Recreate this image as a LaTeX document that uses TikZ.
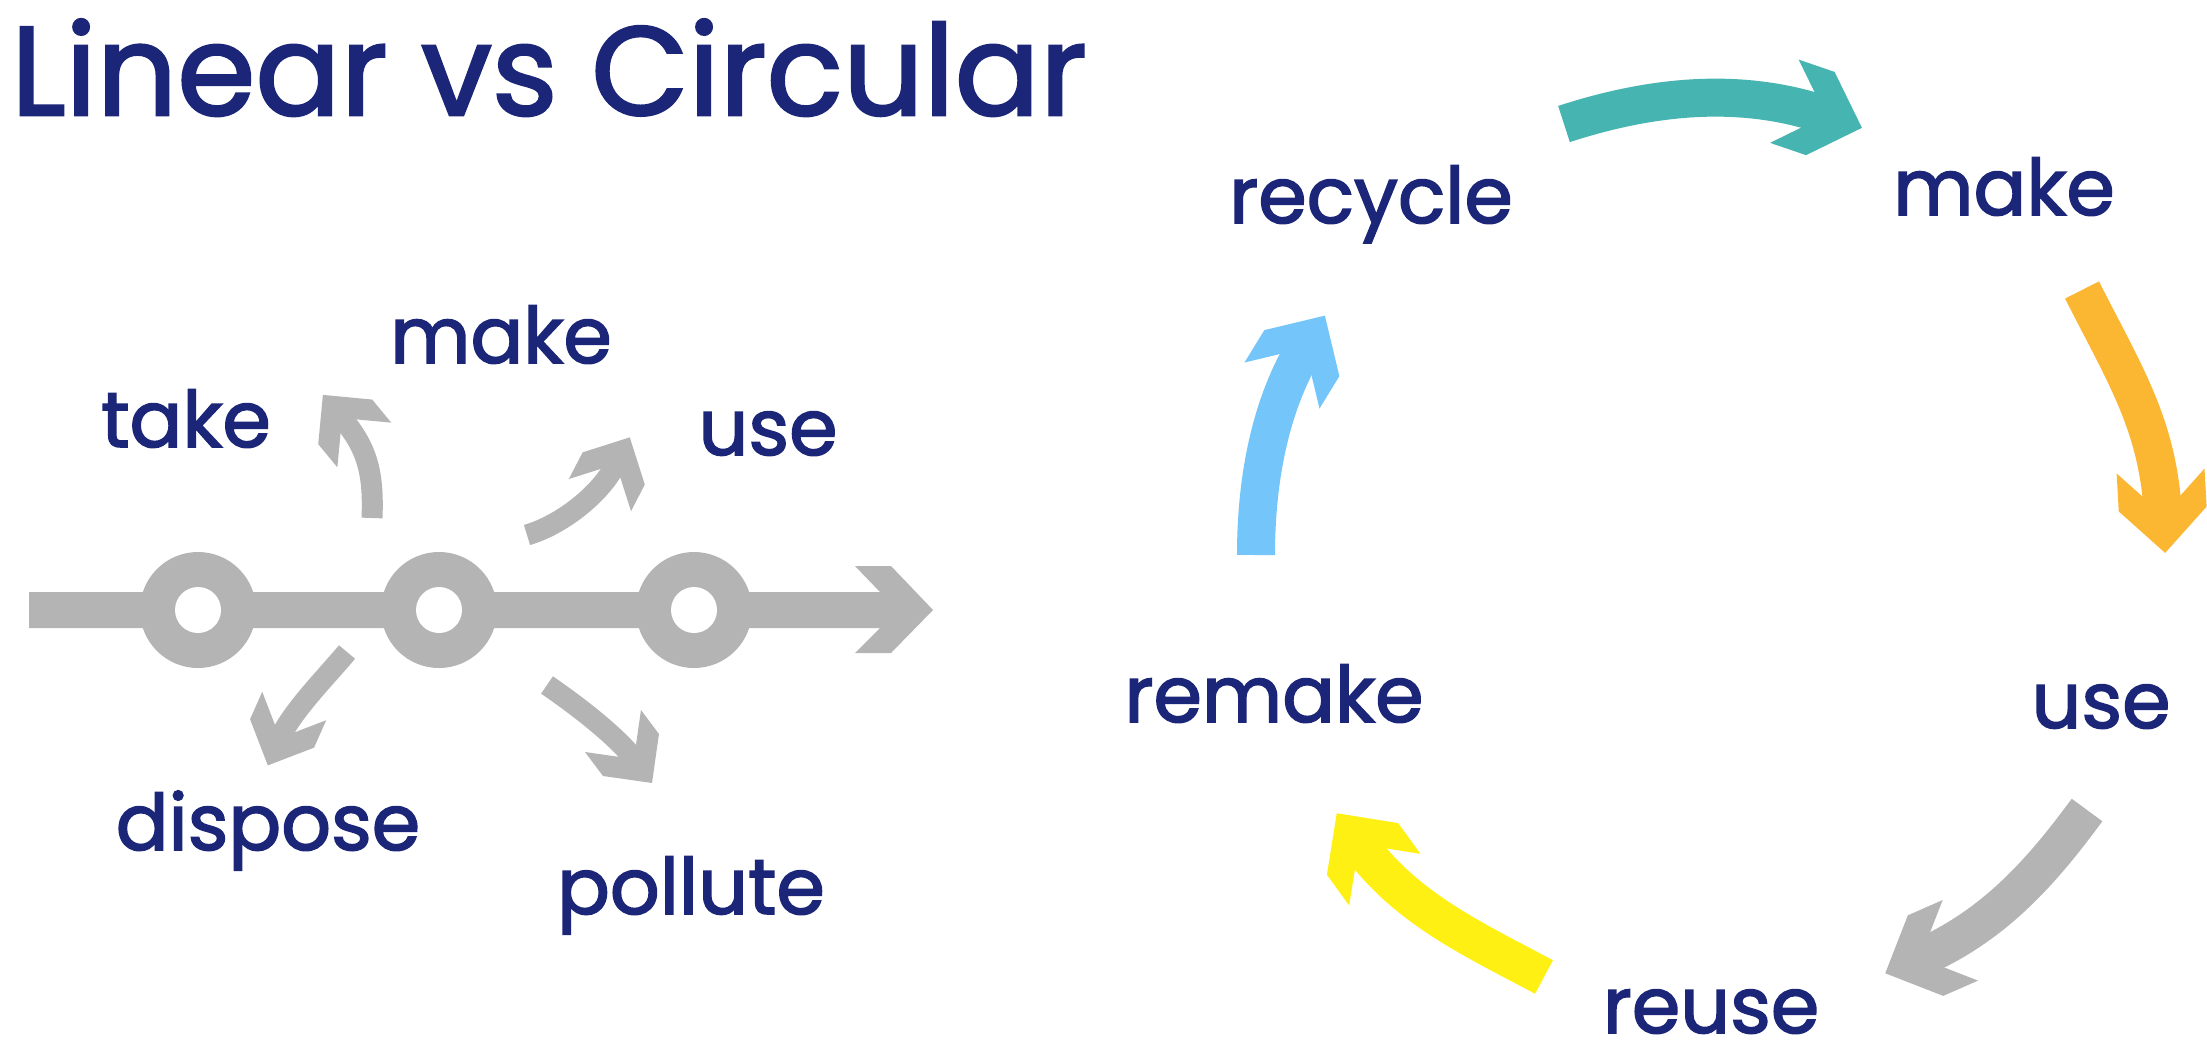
\documentclass[tikz,border=0pt]{standalone}
\usepackage{fontspec}
\setmainfont{Poppins}[FakeBold=2]
\usetikzlibrary{decorations.markings}
\definecolor{navy}{RGB}{27,38,120}
\definecolor{lgray}{RGB}{180,180,180}
\definecolor{tealc}{RGB}{70,180,176}
\definecolor{orangec}{RGB}{251,182,50}
\definecolor{yellowc}{RGB}{255,240,20}
\definecolor{skyc}{RGB}{116,197,250}
\tikzset{
  lbl/.style={text=navy, inner sep=0pt, anchor=base, font=\fontsize{78}{90}\selectfont},
  chev/.style n args={3}{postaction={decorate},
    decoration={markings, mark=at position 0.9999 with {\fill[#1] (#3,0) -- (#3-#2,#2) -- (-#2,#2) -- (0,0) -- (-#2,-#2) -- (#3-#2,-#2) -- cycle;}}},
  bigarrow/.style={draw=#1, line width=38pt, chev={#1}{44}{38}},
  smallarrow/.style={draw=lgray, line width=21pt, chev={lgray}{35}{30}},
}
\begin{document}
\begin{tikzpicture}[x=1pt,y=-1pt]
\useasboundingbox (0,0) rectangle (2207,1057);
\fill[white] (0,0) rectangle (2207,1057);
% title
\node[text=navy, inner sep=0pt, anchor=base west, font=\fontsize{126}{140}\selectfont] (title) at (11,115) {Linear vs Circular};
% linear bar
\fill[lgray] (29,592) -- (880,592) -- (855,566) -- (891,566) -- (933,610) -- (891,653) -- (855,653) -- (880,628) -- (29,628) -- cycle;
\foreach \n/\x in {r1/198, r2/439, r3/694} {
  \fill[lgray] (\x,610) circle (58pt);
  \fill[white] (\x,610) circle (23pt);
  \coordinate (\n) at (\x,610);
}
% linear labels
\node[lbl] (take) at (186,447) {take};
\node[lbl] (lmake) at (501,363) {make};
\node[lbl] (luse) at (768,455) {use};
\node[lbl] (dispose) at (268,850) {dispose};
\node[lbl] (pollute) at (691,914) {pollute};
% small arrows
\coordinate (a1s) at (372,518); \coordinate (a1e) at (342,418);
\coordinate (a2s) at (527,535); \coordinate (a2e) at (616,464);
\coordinate (a3s) at (347,652); \coordinate (a3e) at (280,738);
\coordinate (a4s) at (547,685); \coordinate (a4e) at (634,759);
\path[smallarrow] (a1s) .. controls (374,470) and (366,447) .. (a1e);
\path[smallarrow] (a2s) .. controls (561,525) and (600,495) .. (a2e);
\path[smallarrow] (a3s) .. controls (328,675) and (292,711) .. (a3e);
\path[smallarrow] (a4s) .. controls (572,702) and (616,735) .. (a4e);
% circular labels
\node[lbl] (recycle) at (1371,223) {recycle};
\node[lbl] (cmake) at (2004,215) {make};
\node[lbl] (cuse) at (2101,728) {use};
\node[lbl] (remake) at (1274,722) {remake};
\node[lbl] (reuse) at (1711,1033) {reuse};
% circular arrows
\coordinate (ts) at (1564,124); \coordinate (te) at (1826,115.5);
\coordinate (os) at (2082,290); \coordinate (oe) at (2163,515);
\coordinate (gs) at (2087,810); \coordinate (ge) at (1920,958);
\coordinate (ys) at (1544,977); \coordinate (ye) at (1359,844);
\coordinate (bs) at (1256,555); \coordinate (be) at (1305,348);
\path[bigarrow=tealc] (ts) .. controls (1650,96) and (1740,86) .. (te);
\path[bigarrow=orangec] (os) .. controls (2125,375) and (2158,425) .. (oe);
\path[bigarrow=lgray] (gs) .. controls (2040,874) and (1993,926) .. (ge);
\path[bigarrow=yellowc] (ys) .. controls (1475,940) and (1406,909) .. (ye);
\path[bigarrow=skyc] (bs) .. controls (1256,460) and (1278,392) .. (be);
\end{tikzpicture}
\end{document}
